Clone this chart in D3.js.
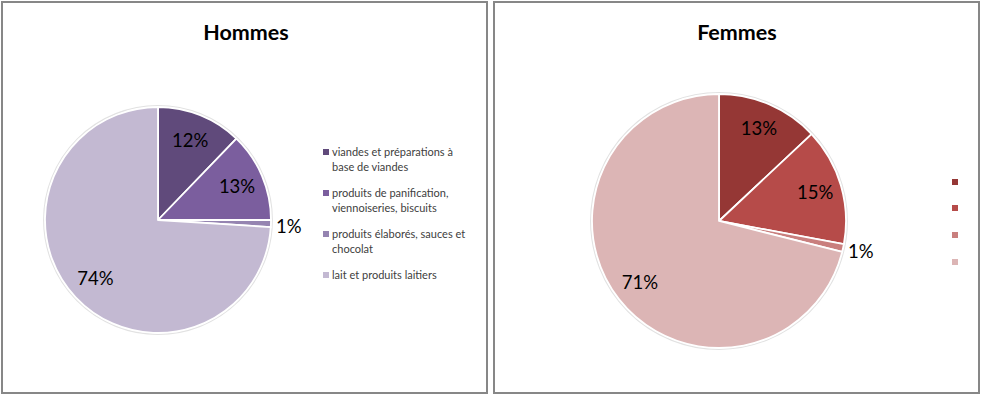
<!DOCTYPE html>
<html>
<head>
<meta charset="utf-8">
<script src="https://cdn.jsdelivr.net/npm/d3@7/dist/d3.min.js"></script>
<style>
  html, body { margin: 0; padding: 0; background: #fff; }
  svg { display: block; }
  text { font-family: Lato, "Open Sans", sans-serif; }
</style>
</head>
<body>
<svg id="chart" width="983" height="397"></svg>
<script>
const categories = [
  "viandes et préparations à base de viandes",
  "produits de panification, viennoiseries, biscuits",
  "produits élaborés, sauces et chocolat",
  "lait et produits laitiers"
];
const legendLinesHommes = [
  ["viandes et préparations à", "base de viandes"],
  ["produits de panification,", "viennoiseries, biscuits"],
  ["produits élaborés, sauces et", "chocolat"],
  ["lait et produits laitiers"]
];
const hommesValues = [12.2, 12.8, 1.0, 74.0];
const femmesValues = [13.0, 14.9, 1.0, 71.1];
const hommesColors = ["#604a7b", "#7b5e9e", "#9584b1", "#c3b9d2"];
const femmesColors = ["#953735", "#b64b49", "#c97f7e", "#dcb5b5"];

const svg = d3.select("#chart");

function panel(opts) {
  const g = svg.append("g");
  g.append("rect")
    .attr("x", opts.box[0]).attr("y", opts.box[1])
    .attr("width", opts.box[2]).attr("height", opts.box[3])
    .attr("fill", "#fff").attr("stroke", "#878787").attr("stroke-width", 2);

  g.append("text")
    .attr("x", opts.titleX).attr("y", 40)
    .attr("text-anchor", "middle")
    .attr("font-size", 21.5).attr("font-weight", "bold").attr("fill", "#000")
    .text(opts.title);

  const total = d3.sum(opts.values);
  const pie = d3.pie().sort(null).value(d => d);
  const arcs = pie(opts.values);
  const arc = d3.arc().innerRadius(0).outerRadius(opts.r);
  const pg = g.append("g").attr("transform", `translate(${opts.cx},${opts.cy})`);

  pg.append("circle").attr("r", opts.r + 1.2).attr("fill", "none")
    .attr("stroke", "#e2e2e2").attr("stroke-width", 1.5);

  pg.selectAll("path.slice").data(arcs).enter().append("path")
    .attr("class", "slice")
    .attr("d", arc)
    .attr("fill", (d, i) => opts.colors[i])
    .attr("stroke", "#fff").attr("stroke-width", 1.8).attr("stroke-linejoin", "round");

  const fmt = v => Math.round(v / total * 100) + "%";
  arcs.forEach((d, i) => {
    const a = (d.startAngle + d.endAngle) / 2;
    const share = d.value / total;
    let rr, anchor;
    if (share < 0.03) { rr = opts.r + 5; anchor = "start"; }
    else { rr = opts.r * opts.lf; anchor = "middle"; }
    const x = Math.sin(a) * rr, y = -Math.cos(a) * rr;
    pg.append("text")
      .attr("x", x).attr("y", y + (share < 0.03 ? 3 : 0))
      .attr("dy", "0.35em")
      .attr("text-anchor", anchor)
      .attr("font-size", 18.5).attr("fill", "#000")
      .text(fmt(d.value));
  });

  const lg = g.append("g");
  opts.legendY.forEach((y, i) => {
    lg.append("rect")
      .attr("x", opts.legendX).attr("y", y - 3)
      .attr("width", 6).attr("height", 6)
      .attr("fill", opts.colors[i]);
    const lines = opts.legendLines ? opts.legendLines[i] : [];
    lines.forEach((ln, j) => {
      lg.append("text")
        .attr("x", opts.legendX + 9).attr("y", y + j * 15)
        .attr("dy", "0.35em")
        .attr("font-size", 11).attr("fill", "#404040")
        .text(ln);
    });
  });
}

panel({
  box: [2, 2, 485, 391], title: "Hommes", titleX: 246,
  cx: 158, cy: 220, r: 113, lf: 0.76,
  values: hommesValues, colors: hommesColors,
  legendX: 323, legendY: [152, 193, 234, 275], legendLines: legendLinesHommes
});
panel({
  box: [494, 2, 485, 391], title: "Femmes", titleX: 737,
  cx: 719, cy: 221, r: 127, lf: 0.79,
  values: femmesValues, colors: femmesColors,
  legendX: 952, legendY: [182, 208, 235, 262], legendLines: null
});
</script>
</body>
</html>
